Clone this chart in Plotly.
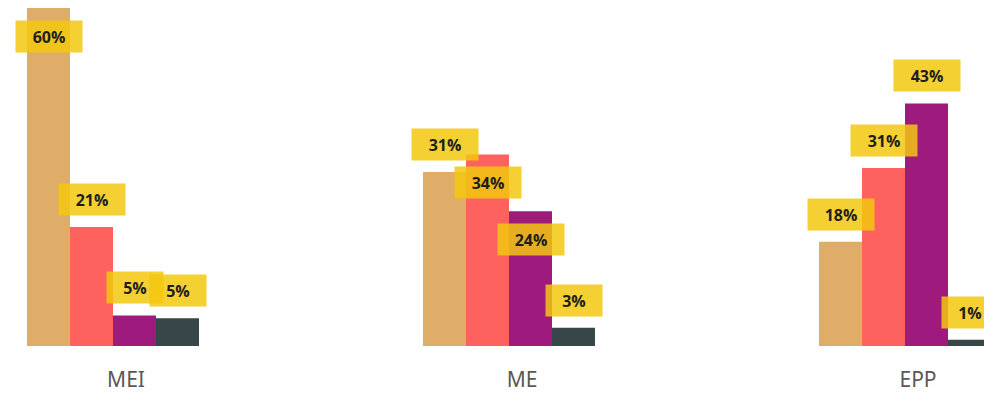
import plotly.graph_objects as go

# =========================================================
# DATA
# =========================================================
categories = ["MEI", "ME", "EPP"]
series_names = ["Série 1", "Série 2", "Série 3", "Série 4"]

s1_values = [60.0, 30.7, 18.4]
s2_values = [21.0, 33.8, 31.4]
s3_values = [5.4, 23.8, 42.8]
s4_values = [4.9, 3.2, 1.1]

# labels Power BI pushed inside the bar (category, series index)
inside_labels = [("MEI", 0), ("ME", 1), ("ME", 2)]

# =========================================================
# STYLE
# =========================================================
colors = ["#E0AD68", "#FD625E", "#9E1A7D", "#374649"]
label_bg = "rgba(242,200,15,0.85)"
label_color = "#1F1E1D"

all_values = [s1_values, s2_values, s3_values, s4_values]

# page has an 8px body margin, so the figure is sized to fit inside the window
PAGE_OFF = 8
FIG_W = 992 - PAGE_OFF
FIG_H = 395 - PAGE_OFF

CAT_PX = 396                    # pixels per category
FIRST_CENTER = 113              # page x of the first group centre
GROUP_FRAC = 172 / CAT_PX       # width of a bar group, in category units
BAR_FRAC = GROUP_FRAC / 4

PLOT_H = 338                    # plot area height in pixels
PX_PER_UNIT = 340 / 60
Y_TOP = PLOT_H / PX_PER_UNIT

fig = go.Figure()

for name, vals, col in zip(series_names, all_values, colors):
    fig.add_trace(go.Bar(
        x=categories,
        y=vals,
        name=name,
        marker=dict(color=col, line=dict(width=0)),
        hoverinfo="skip"
    ))

# data labels (yellow boxes)
annotations = []
for s_idx, vals in enumerate(all_values):
    for c_idx, (cat, v) in enumerate(zip(categories, vals)):
        txt = f"{round(v)}%"
        inside = (cat, s_idx) in inside_labels
        annotations.append(dict(
            x=c_idx + (s_idx - 1.5) * BAR_FRAC,
            y=min(v, Y_TOP),
            xref="x", yref="y",
            text=txt,
            showarrow=False,
            yanchor="top" if inside else "bottom",
            yshift=-12 if inside else 11,
            bgcolor=label_bg,
            borderpad=6,
            width=len(txt) * 10 + 24,
            height=19,
            font=dict(family="Open Sans", size=16, color=label_color, weight="bold")
        ))

fig.update_layout(
    width=FIG_W,
    height=FIG_H,
    margin=dict(l=0, r=0, t=0, b=FIG_H - PLOT_H),
    paper_bgcolor="white",
    plot_bgcolor="white",
    barmode="group",
    bargap=1 - GROUP_FRAC,
    bargroupgap=0,
    showlegend=False,
    annotations=annotations,
    xaxis=dict(
        type="category",
        range=[(PAGE_OFF - FIRST_CENTER) / CAT_PX, (992 - FIRST_CENTER) / CAT_PX],
        showgrid=False,
        showline=False,
        zeroline=False,
        ticks="",
        ticklabelstandoff=19,
        ticklabelshift=13,
        tickfont=dict(family="Noto Sans", size=21, color="#5A5856")
    ),
    yaxis=dict(
        range=[0, Y_TOP],
        visible=False,
        showgrid=False,
        zeroline=False
    )
)

fig.write_html("out.html")
